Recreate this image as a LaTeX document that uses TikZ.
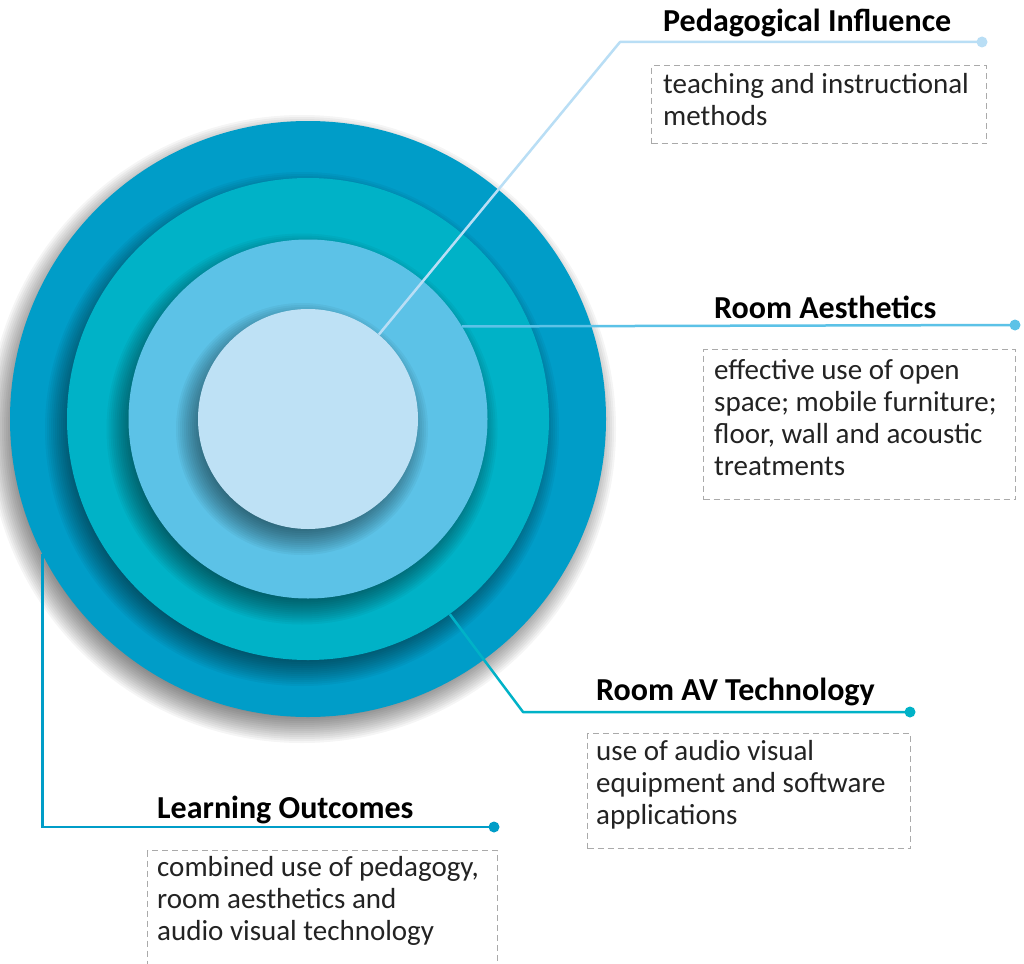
\documentclass[tikz,border=0pt]{standalone}
\usepackage{fontspec}
\setmainfont{Carlito}
\usetikzlibrary{calc}
\definecolor{cOuter}{RGB}{0,157,200}
\definecolor{cTeal}{RGB}{0,178,199}
\definecolor{cLight}{RGB}{92,194,231}
\definecolor{cInner}{RGB}{190,225,245}
\definecolor{cPed}{RGB}{185,222,245}
\definecolor{cBox}{RGB}{170,170,170}
\definecolor{cText}{RGB}{35,35,35}
\newcommand\ringshadow[1]{%
  \foreach \k in {0,...,13}{%
    \fill[black, opacity=0.04] (302,429) circle [radius={(#1+16-2*\k)*1pt}];
  }%
}
\begin{document}
\begin{tikzpicture}[x=1pt,y=-1pt,
  ring/.style={circle, inner sep=0pt, draw=none},
  dot/.style={circle, inner sep=0pt, minimum size=11pt},
  conn/.style={line width=2.5pt},
  title/.style={font=\fontsize{32}{36}\selectfont\bfseries, inner sep=0pt, anchor=base west},
  desc/.style={font=\fontsize{29}{32}\selectfont, text=cText, inner sep=0pt, align=left, anchor=base west},
  descbox/.style={draw=cBox, dash pattern=on 6pt off 4pt, line width=1.3pt, anchor=north west, inner sep=0pt},
]
\useasboundingbox (0,0) rectangle (1024,963);
\fill[white] (0,0) rectangle (1024,963);

% rings with shadows
\ringshadow{298}
\node[ring, fill=cOuter, minimum size=596pt] (c1) at (308,419) {};
\ringshadow{241}
\node[ring, fill=cTeal, minimum size=482pt] (c2) at (308,419) {};
\ringshadow{179.5}
\node[ring, fill=cLight, minimum size=359pt] (c3) at (308,419) {};
\ringshadow{110}
\node[ring, fill=cInner, minimum size=220pt] (c4) at (308,419) {};

% connectors
\node[dot, fill=cPed] (pd) at (982,42) {};
\coordinate (pk) at (620,42);
\draw[conn, draw=cPed, line join=round] (c4.50) -- (pk) -- (pd.center);

\node[dot, fill=cLight] (ad) at (1015,325) {};
\draw[conn, draw=cLight] (c3.31.6) -- (ad.center);

\node[dot, fill=cTeal] (vd) at (910,712) {};
\coordinate (vk) at (523,712);
\draw[conn, draw=cTeal, line join=round] (c2.-54.3) -- (vk) -- (vd.center);

\node[dot, fill=cOuter] (ld) at (494,827) {};
\draw[conn, draw=cOuter] (c1.207.6) |- (ld.center);

% titles
\node[title] (pt) at (663,32) {Pedagogical Influence};
\node[title] (at) at (714,318) {Room Aesthetics};
\node[title] (vt) at (596,700) {Room AV Technology};
\node[title] (lt) at (157,818) {Learning Outcomes};

% boxes
\node[descbox, minimum width=335pt, minimum height=78pt] (pb) at (651,65) {};
\node[descbox, minimum width=312pt, minimum height=150pt] (ab) at (703,349) {};
\node[descbox, minimum width=323pt, minimum height=115pt] (vb) at (587,733) {};
\node[descbox, minimum width=350pt, minimum height=140pt] (lb) at (147,850) {};

% descriptions (base anchor sits below the last line)
\node[desc] (pdsc) at (663,125.5) {teaching and instructional\\methods};
\node[desc] (adsc) at (714,475.5) {effective use of open\\space; mobile furniture;\\floor, wall and acoustic\\treatments};
\node[desc] (vdsc) at (596,824.5) {use of audio visual\\equipment and software\\applications};
\node[desc] (ldsc) at (157,940.5) {combined use of pedagogy,\\room aesthetics and\\audio visual technology};
\end{tikzpicture}
\end{document}
